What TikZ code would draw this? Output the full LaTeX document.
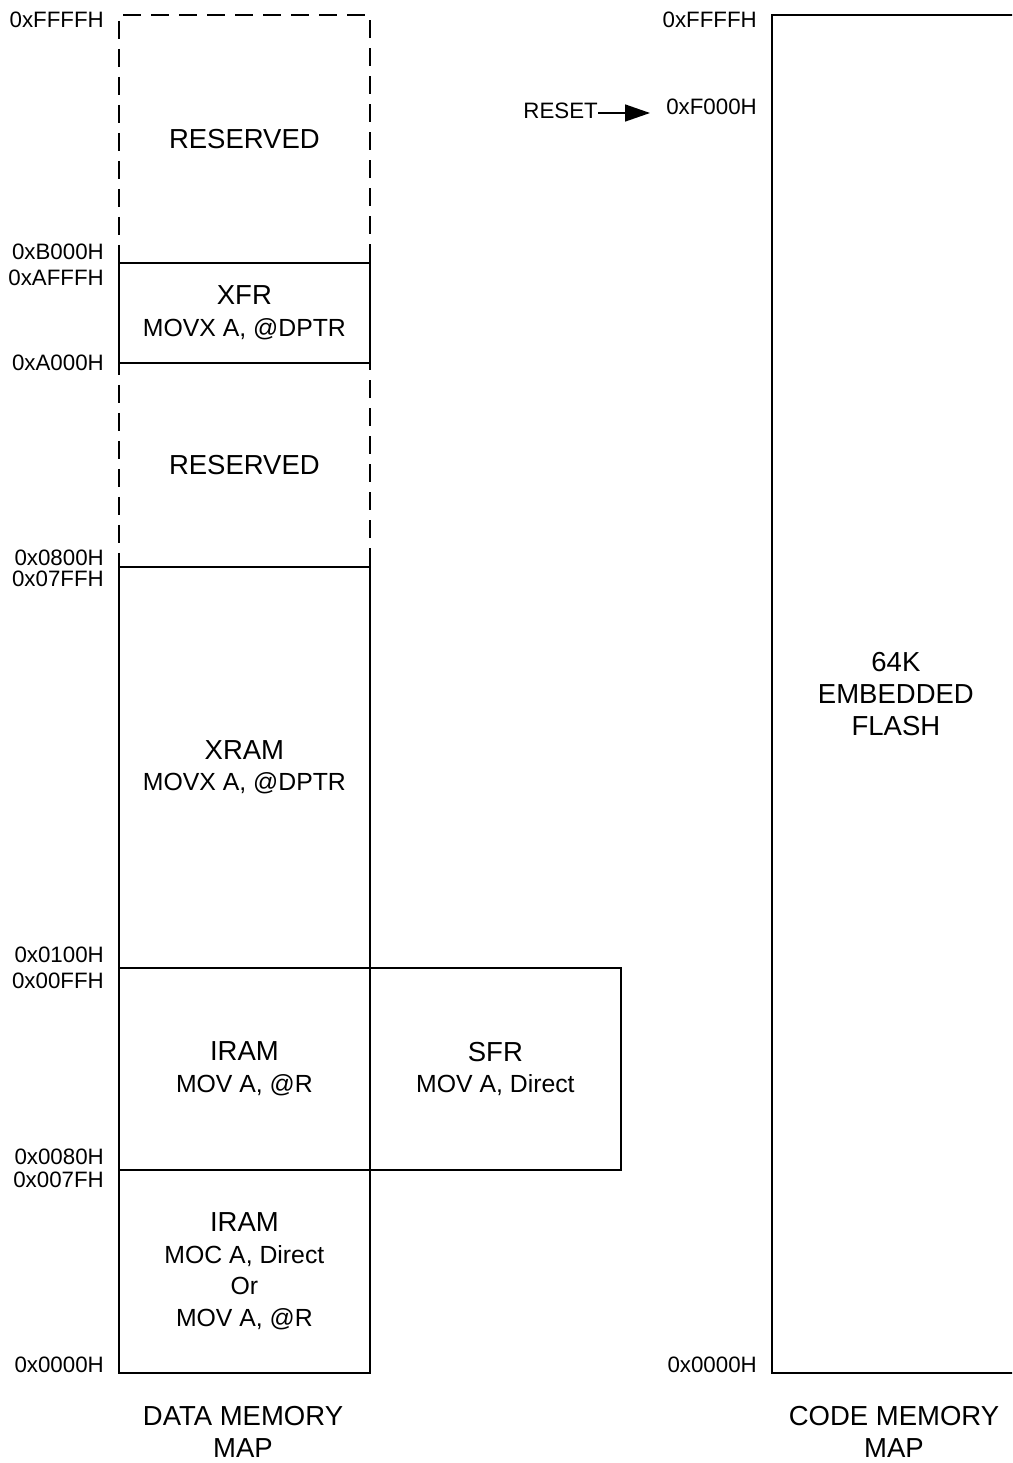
\documentclass[tikz,border=0pt]{standalone}
\usepackage{fontspec}
\setmainfont{Liberation Sans}
\usetikzlibrary{arrows.meta}
\newcommand{\rtitle}[1]{{\fontsize{27.5}{31.5}\selectfont #1}}
\begin{document}
\begin{tikzpicture}[x=1pt,y=-1pt,
  region/.style={draw, line width=1.8pt, rectangle, inner sep=0pt, anchor=north west,
    align=center, font=\fontsize{24.8}{31.5}\selectfont, minimum width=251pt},
  dashedregion/.style={region, dash pattern=on 18pt off 10pt},
  addr/.style={inner sep=0pt, anchor=east, font=\fontsize{22.3}{26}\selectfont},
  caption/.style={inner sep=0pt, align=center, font=\fontsize{27.5}{32}\selectfont}]
\useasboundingbox (0,0) rectangle (1012,1463);
\clip (0,0) rectangle (1012,1463);

% data memory map
\node[dashedregion, minimum height=248pt] (res1) at (118,14) {\rtitle{RESERVED}};
\node[dashedregion, minimum height=204pt] (res2) at (118,362) {\rtitle{RESERVED}};
\node[region, minimum height=100pt] (xfr) at (118,262) {\rtitle{XFR}\\MOVX A, @DPTR};
\node[region, minimum height=401pt] (xram) at (118,566) {\rtitle{XRAM}\\MOVX A, @DPTR};
\node[region, minimum height=202pt] (iramh) at (118,967) {\rtitle{IRAM}\\MOV A, @R};
\node[region, minimum height=202pt] (sfr) at (369,967) {\rtitle{SFR}\\MOV A, Direct};
\node[region, minimum height=203pt] (iraml) at (118,1169) {\rtitle{IRAM}\\MOC A, Direct\\Or\\MOV A, @R};

% code memory map
\node[region, minimum width=248pt, minimum height=1358pt, font=\fontsize{27.5}{32}\selectfont] (flash) at (771,14) {64K\\EMBEDDED\\FLASH};

% address labels, data
\node[addr] (a1) at (104,19.5) {0xFFFFH};
\node[addr] (a2) at (104,252) {0xB000H};
\node[addr] (a3) at (104,278) {0xAFFFH};
\node[addr] (a4) at (104,363) {0xA000H};
\node[addr] (a5) at (104,557.5) {0x0800H};
\node[addr] (a6) at (104,579) {0x07FFH};
\node[addr] (a7) at (104,955) {0x0100H};
\node[addr] (a8) at (104,981) {0x00FFH};
\node[addr] (a9) at (104,1157) {0x0080H};
\node[addr] (a10) at (104,1180) {0x007FH};
\node[addr] (a11) at (104,1365) {0x0000H};

% address labels, code
\node[addr] (c1) at (757,19.5) {0xFFFFH};
\node[addr] (c2) at (757,106.5) {0xF000H};
\node[addr] (c3) at (757,1365) {0x0000H};

% reset arrow
\node[addr] (reset) at (598,110.7) {RESET};
\coordinate (resettip) at (650,113);
\draw[line width=1.5pt, -{Triangle[length=25pt,width=17pt]}] (reset.east |- resettip) -- (resettip);

% captions
\node[caption] (dcap) at (243,1432) {DATA MEMORY\\MAP};
\node[caption] (ccap) at (894,1432) {CODE MEMORY\\MAP};
\end{tikzpicture}
\end{document}
